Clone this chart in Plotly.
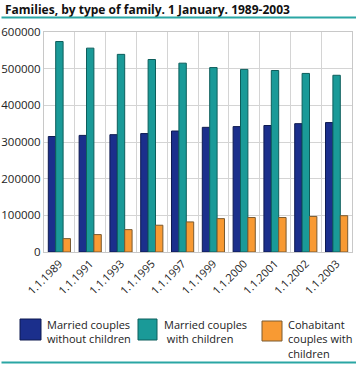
import plotly.graph_objects as go

categories = ["1.1.1989", "1.1.1991", "1.1.1993", "1.1.1995", "1.1.1997",
              "1.1.1999", "1.1.2000", "1.1.2001", "1.1.2002", "1.1.2003"]
married_without = [315000, 318000, 320000, 323000, 330000, 340000, 342000, 345000, 350000, 353000]
married_with = [574000, 556000, 539000, 525000, 515000, 503000, 498000, 495000, 487000, 482000]
cohabitant_with = [36500, 47500, 61000, 73000, 82000, 91000, 94000, 94000, 97000, 99000]
series_names = ["Married couples<br>without children",
                "Married couples<br> with children",
                "Cohabitant<br>couples with<br>children"]
y_ticks = [0, 100000, 200000, 300000, 400000, 500000, 600000]

colors = ["#1b2f8c", "#1a9a98", "#f89a33"]
outlines = ["#0e1a50", "#0d5e5c", "#7a5a30"]
rule_color = "#2aa6a4"

W, H = 356, 365
L, R, T, B = 44, 4, 32, 113
PW, PH = W - L - R, H - T - B


def px(x):
    return (x - L) / PW


def py(y):
    return (H - B - y) / PH


fig = go.Figure()
for vals, name, c, oc in zip([married_without, married_with, cohabitant_with],
                             series_names, colors, outlines):
    fig.add_trace(go.Bar(x=categories, y=vals, name=name,
                         marker=dict(color=c, line=dict(color=oc, width=1))))

font = "Open Sans, Noto Sans, sans-serif"
fig.update_layout(
    width=W, height=H,
    margin=dict(l=L, r=R, t=T, b=B, autoexpand=False),
    paper_bgcolor="white", plot_bgcolor="white",
    barmode="group", bargap=0.28, bargroupgap=0,
    showlegend=False,
    font=dict(family=font, size=11, color="#222222"),
    title=dict(text="<b>Families, by type of family. 1 January. 1989-2003</b>",
               xref="container", yref="container", x=0.014, y=0.985,
               xanchor="left", yanchor="top",
               font=dict(family=font, size=12, color="#111111")),
    xaxis=dict(type="category", tickson="boundaries", showgrid=True,
               gridcolor="#d4d4d4", gridwidth=1, tickangle=-45, ticks="",
               showline=True, linecolor="#c8c8c8", mirror=True,
               automargin=False,
               tickfont=dict(size=11, color="#222222")),
    yaxis=dict(range=[0, 600000], tickvals=y_ticks, tickformat="d",
               showgrid=True, gridcolor="#d4d4d4", gridwidth=1, ticks="",
               showline=True, linecolor="#c8c8c8", mirror=True,
               zeroline=False, automargin=False,
               tickfont=dict(size=11.5, color="#222222")),
)

# title rule and bottom rule as thin filled annotation boxes
for yc in (18, 362.5):
    fig.add_annotation(xref="paper", yref="paper", x=px(1), y=py(yc),
                       xanchor="left", yanchor="middle", showarrow=False,
                       text=" ", width=354, height=1, borderpad=0,
                       bgcolor=rule_color, font=dict(size=1))

# manual legend
boxes = [(20, 41, 319, 340), (138, 157, 319, 340), (262, 282, 321, 341)]
text_x = [46, 163, 287]
for (x0, x1, y0, y1), tx, c, oc, name in zip(boxes, text_x, colors, outlines, series_names):
    fig.add_shape(type="rect", xref="paper", yref="paper",
                  x0=px(x0), x1=px(x1), y0=py(y1), y1=py(y0),
                  fillcolor=c, line=dict(color=oc, width=1))
    fig.add_annotation(xref="paper", yref="paper", x=px(tx), y=py(316),
                       xanchor="left", yanchor="top", align="left",
                       showarrow=False, text=name, borderpad=0,
                       font=dict(family=font, size=11, color="#222222"))

fig.write_html("out.html", config={"displayModeBar": False},
               post_script="document.body.style.margin='0';")
